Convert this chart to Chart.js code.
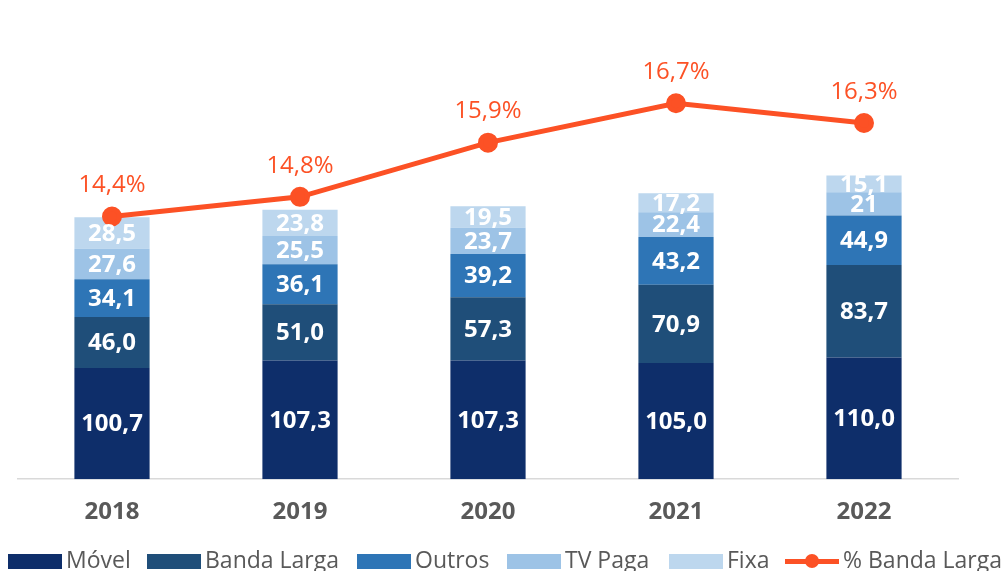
<!DOCTYPE html>
<html>
<head>
<meta charset="utf-8">
<script src="https://cdn.jsdelivr.net/npm/chart.js@4/dist/chart.umd.min.js"></script>
<style>
  html, body { margin: 0; padding: 0; background: #fff; overflow: hidden; }
  #wrap { position: relative; width: 1002px; height: 571px; }
  #legend { position: absolute; left: 0; top: 543px; width: 1002px; height: 30px;
    font-family: "Open Sans", sans-serif; font-size: 23px; color: #595959; }
  #legend .it { position: absolute; top: 0; white-space: nowrap; }
  #legend .sw { position: absolute; top: 11px; width: 54px; height: 15px; }
  #legend .ln { position: absolute; top: 16px; width: 54px; height: 5px; background: #fc5125; }
  #legend .ln i { position: absolute; left: 20px; top: -5px; width: 14px; height: 14px; border-radius: 50%; background: #fc5125; }
  #legend .tx { position: absolute; top: 0; }
</style>
</head>
<body>
<div id="wrap">
  <canvas id="c" width="1002" height="571"></canvas>
  <div id="legend"></div>
</div>
<script>
/* ── Data ── */
const years = ["2018", "2019", "2020", "2021", "2022"];
const movel      = [100.7, 107.3, 107.3, 105.0, 110.0];
const bandaLarga = [46.0, 51.0, 57.3, 70.9, 83.7];
const outros     = [34.1, 36.1, 39.2, 43.2, 44.9];
const tvPaga     = [27.6, 25.5, 23.7, 22.4, 21];
const fixa       = [28.5, 23.8, 19.5, 17.2, 15.1];
const pctBanda   = [14.4, 14.8, 15.9, 16.7, 16.3];

const ORANGE = "#fc5125";
const FONT = '"Open Sans", sans-serif';

function fmt(v, d) { return v.toFixed(d).replace(".", ","); }
// "21" in 2022 is shown without decimals in the original
function barLabel(v) { return Number.isInteger(v) && v < 40 ? String(v) : fmt(v, 1); }

/* ── Value labels ── */
const labelsPlugin = {
  id: "valueLabels",
  afterDatasetsDraw(chart) {
    const ctx = chart.ctx;
    ctx.save();
    ctx.textAlign = "center";
    ctx.textBaseline = "middle";
    chart.data.datasets.forEach((ds, i) => {
      const meta = chart.getDatasetMeta(i);
      if (meta.hidden) return;
      meta.data.forEach((el, j) => {
        const v = ds.data[j];
        if (ds.type === "line") {
          ctx.fillStyle = ORANGE;
          ctx.font = "400 24px " + FONT;
          ctx.fillText(fmt(v, 1) + "%", el.x, el.y - 31);
        } else {
          ctx.fillStyle = "#fff";
          ctx.font = "700 24px " + FONT;
          ctx.fillText(barLabel(v), el.x, (el.y + el.base) / 2 + 1);
        }
      });
    });
    ctx.restore();
  }
};

const bar = (label, data, color) => ({
  type: "bar", label, data, backgroundColor: color, yAxisID: "y", stack: "s",
  borderWidth: 0, categoryPercentage: 1, barPercentage: 0.4, order: 2
});

const chart = new Chart(document.getElementById("c"), {
  data: {
    labels: years,
    datasets: [
      {
        type: "line", label: "% Banda Larga", data: pctBanda, yAxisID: "y1",
        borderColor: ORANGE, backgroundColor: ORANGE, borderWidth: 5,
        pointRadius: 7.5, pointHoverRadius: 7.5, tension: 0, order: 1
      },
      bar("Móvel", movel, "#0e2e6a"),
      bar("Banda Larga", bandaLarga, "#1f4e79"),
      bar("Outros", outros, "#2e75b6"),
      bar("TV Paga", tvPaga, "#9dc3e6"),
      bar("Fixa", fixa, "#bdd7ee")
    ]
  },
  options: {
    responsive: false,
    animation: false,
    layout: { padding: { left: 18, right: 44, top: 37, bottom: 25 } },
    plugins: { legend: { display: false }, tooltip: { enabled: false } },
    scales: {
      x: {
        stacked: true,
        grid: { display: false, drawTicks: false },
        border: { display: true, color: "#d9d9d9", width: 1.5 },
        ticks: { color: "#595959", padding: 19, font: { family: FONT, size: 24, weight: "700" } }
      },
      y: { stacked: true, display: false, min: 0, max: 400 },
      y1: { display: false, min: 9.064, max: 18.046 }
    }
  },
  plugins: [labelsPlugin]
});

/* ── Legend ── */
const legendItems = [
  { t: "Móvel", c: "#0e2e6a", x: 8 },
  { t: "Banda Larga", c: "#1f4e79", x: 147 },
  { t: "Outros", c: "#2e75b6", x: 357 },
  { t: "TV Paga", c: "#9dc3e6", x: 507 },
  { t: "Fixa", c: "#bdd7ee", x: 669 },
  { t: "% Banda Larga", line: true, x: 785 }
];
document.getElementById("legend").innerHTML = legendItems.map(it =>
  `<div class="it" style="left:${it.x}px">` +
  (it.line ? `<div class="ln" style="left:0"><i></i></div>` : `<div class="sw" style="left:0;background:${it.c}"></div>`) +
  `<span class="tx" style="left:58px">${it.t}</span></div>`).join("");
</script>
</body>
</html>
